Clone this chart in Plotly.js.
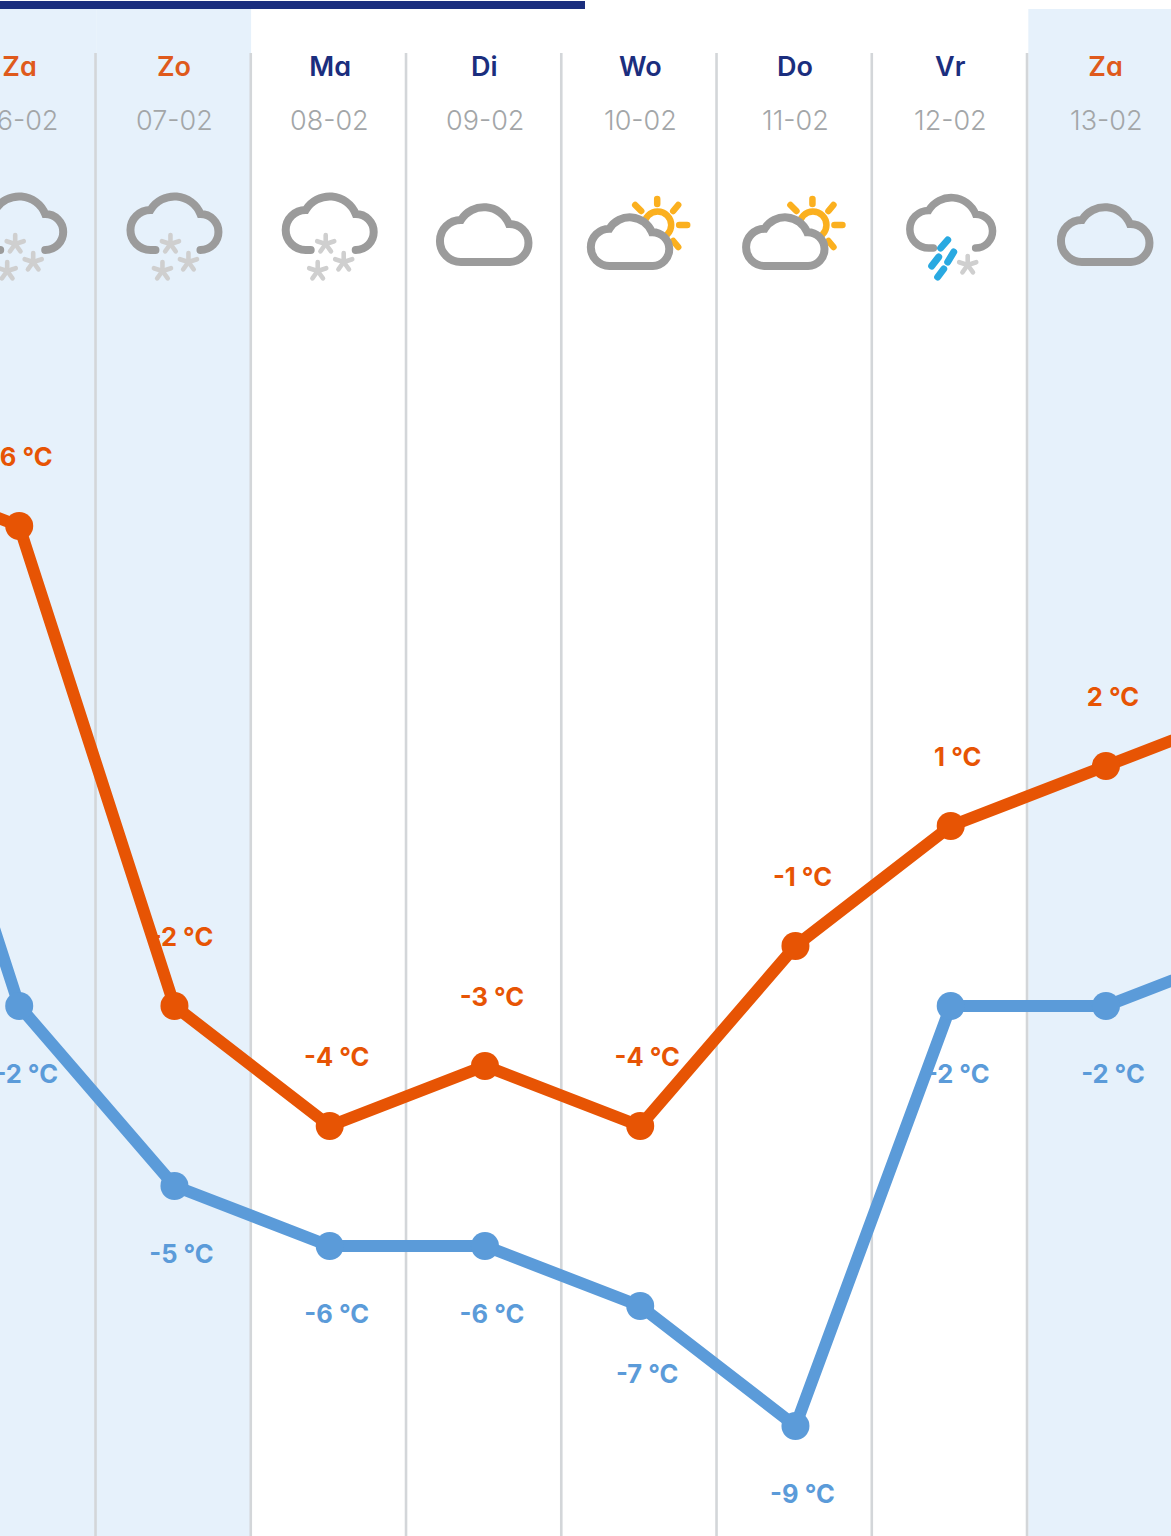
<!DOCTYPE html>
<html>
<head>
<meta charset="utf-8">
<script src="https://cdn.plot.ly/plotly-3.0.1.min.js"></script>
<style>
html,body{margin:0;padding:0;background:#fff;overflow:hidden}
#chart text{font-feature-settings:"cv11" 1,"ss03" 1;}
</style>
</head>
<body>
<div id="chart" style="width:1171px;height:1536px"></div>
<script>
// ---- data ----
const dayIndex   = [-1, 0, 1, 2, 3, 4, 5, 6, 7, 8];
const highs      = [ 7, 6,-2,-4,-3,-4,-1, 1, 2, 3];
const lows       = [ 6,-2,-5,-6,-6,-7,-9,-2,-2,-1];
const labelledDays = [0,1,2,3,4,5,6,7];
const highLabels = ['6 °C','-2 °C','-4 °C','-3 °C','-4 °C','-1 °C','1 °C','2 °C'];
const lowLabels  = ['-2 °C','-5 °C','-6 °C','-6 °C','-7 °C','-9 °C','-2 °C','-2 °C'];
const dayNames   = ['Za','Zo','Ma','Di','Wo','Do','Vr','Za'];
const dates      = ['06-02','07-02','08-02','09-02','10-02','11-02','12-02','13-02'];
const iconKinds  = ['snow','snow','snow','cloud','sun','sun','sleet','cloud'];

// ---- colours ----
const ORANGE='#E75404', BLUE='#5B9BD9', NAVY='#1B2E7E', WEEKEND='#E6F1FB', GRID='#D3D6D9';
const DAYORANGE='#DF5A1C', DATEGREY='#A3A6A8', BAR='#1B2E7E';

// ---- pixel frame ----
const W=1171,H=1536;
const xStep=155.25, x0=19.2;               // px of day 0, px per day
const yStep=60, yRef=1006, yRefT=-2;       // px per degree
const xRange=[-x0/xStep,(W-x0)/xStep];
const yRange=[yRefT-(H-yRef)/yStep, yRefT+yRef/yStep];
const paperY=px=>1-px/H, paperX=px=>px/W;

// ---- icons as SVG ----
const ICON=120; // icon box in px; box centre x = column, box top = iconTop
const iconTop=180;
const snowCloud=`<path d="M-19,250 H-24 A20,20 0 0 1 -24,210 A28,28 0 0 1 26,214 A18,18 0 0 1 26,250" fill="none" stroke="#9B9B9B" stroke-width="8" stroke-linecap="round"/>`;
const closedCloud=`M-24,262 A21,21 0 0 1 -24,220 A27,27 0 0 1 24,224 A19,19 0 0 1 25,262 Z`;
function star(cx,cy){
  let s='';
  for(let k=0;k<5;k++){
    const a=(-90+72*k)*Math.PI/180;
    s+=`<line x1="${cx}" y1="${cy}" x2="${(cx+9*Math.cos(a)).toFixed(2)}" y2="${(cy+9*Math.sin(a)).toFixed(2)}" stroke="#CFCFCF" stroke-width="4.6" stroke-linecap="round"/>`;
  }
  return s;
}
const sunRays=[[17,199,17,204],[33,211,38,205],[39,225,47,225],[33,241,38,247],[-5,205,1,211]];
const rainDashes=[[-3,240,-10,248],[3,252,-3,262],[-12,257,-19,266],[-7,269,-13,277]];
const iconBodies={
  snow: snowCloud+star(-4,244)+star(14,262)+star(-12,271),
  cloud:`<path d="${closedCloud}" fill="none" stroke="#9B9B9B" stroke-width="8"/>`,
  sun:`<circle cx="17.5" cy="225" r="13.5" fill="none" stroke="#FBB01F" stroke-width="6.5"/>`+
      sunRays.map(r=>`<line x1="${r[0]}" y1="${r[1]}" x2="${r[2]}" y2="${r[3]}" stroke="#FBB01F" stroke-width="6.5" stroke-linecap="round"/>`).join('')+
      `<g transform="translate(-9.5,242) scale(.886) translate(0,-235)"><path d="${closedCloud}" fill="#fff" stroke="#9B9B9B" stroke-width="9"/></g>`,
  sleet: `<g transform="translate(0.5,13) scale(.94)">${snowCloud}</g>`+
      rainDashes.map(r=>`<line x1="${r[0]}" y1="${r[1]}" x2="${r[2]}" y2="${r[3]}" stroke="#29A9E1" stroke-width="7" stroke-linecap="round"/>`).join('')+
      star(17,265)
};
const iconUri=k=>'data:image/svg+xml;charset=utf-8,'+encodeURIComponent(
  `<svg xmlns="http://www.w3.org/2000/svg" width="${ICON}" height="${ICON}" viewBox="${-ICON/2} ${iconTop} ${ICON} ${ICON}">${iconBodies[k]}</svg>`);

// ---- traces: labels first so that the lines run over them ----
const font=c=>({family:'Inter, "Noto Sans", sans-serif',size:25.5,color:c,weight:700});
const labelDx=7/xStep, highDy=66/yStep, lowDy=71/yStep;
const valueAt=(arr,d)=>arr[dayIndex.indexOf(d)];
const traces=[
  {type:'scatter',mode:'text',x:labelledDays.map(d=>d+labelDx),y:labelledDays.map(d=>valueAt(highs,d)+highDy),
   text:highLabels,textposition:'middle center',textfont:font(ORANGE),cliponaxis:false,hoverinfo:'skip'},
  {type:'scatter',mode:'text',x:labelledDays.map(d=>d+labelDx),y:labelledDays.map(d=>valueAt(lows,d)-lowDy),
   text:lowLabels,textposition:'middle center',textfont:font(BLUE),cliponaxis:false,hoverinfo:'skip'},
  {type:'scatter',mode:'lines+markers',x:dayIndex,y:lows,line:{color:BLUE,width:12},marker:{color:BLUE,size:28},hoverinfo:'skip'},
  {type:'scatter',mode:'lines+markers',x:dayIndex,y:highs,line:{color:ORANGE,width:12},marker:{color:ORANGE,size:28},hoverinfo:'skip'}
];

// ---- layout furniture built from the day arrays ----
const isWeekend=n=>n==='Za'||n==='Zo';
const gridShift=1.3/xStep, bandTrim=1/xStep;
const shapes=[];
labelledDays.forEach((d,i)=>{
  if(isWeekend(dayNames[i])){
    shapes.push({type:'rect',layer:'below',xref:'x',yref:'paper',x0:d-0.5,x1:d+0.5-bandTrim+(i===0?bandTrim:0),y0:0,y1:paperY(9),fillcolor:WEEKEND,line:{width:0}});
  }
});
// the last weekend band runs on to the next day, off the page
shapes.push({type:'rect',layer:'below',xref:'x',yref:'paper',x0:7.5,x1:8.5,y0:0,y1:paperY(9),fillcolor:WEEKEND,line:{width:0}});
labelledDays.forEach(d=>{
  shapes.push({type:'line',layer:'below',xref:'x',yref:'paper',x0:d+0.5-gridShift,x1:d+0.5-gridShift,y0:0,y1:paperY(53),line:{color:GRID,width:2.6}});
});
shapes.push({type:'rect',layer:'below',xref:'paper',yref:'paper',x0:0,x1:paperX(585),y0:paperY(9),y1:paperY(1),fillcolor:BAR,line:{width:0}});

const annotations=[];
labelledDays.forEach((d,i)=>{
  annotations.push({xref:'x',yref:'paper',x:d,y:paperY(66),text:dayNames[i],showarrow:false,xanchor:'center',yanchor:'middle',
    font:{family:'Inter, "Noto Sans", sans-serif',size:27,weight:600,color:isWeekend(dayNames[i])?DAYORANGE:NAVY}});
  annotations.push({xref:'x',yref:'paper',x:d,y:paperY(121),text:dates[i],showarrow:false,xanchor:'center',yanchor:'middle',
    font:{family:'Inter, "Noto Sans", sans-serif',size:27,weight:300,color:DATEGREY}});
});

const images=labelledDays.map((d,i)=>({source:iconUri(iconKinds[i]),xref:'x',yref:'paper',x:d,y:paperY(iconTop),
  sizex:ICON/xStep,sizey:ICON/H,xanchor:'center',yanchor:'top',sizing:'stretch',layer:'above'}));

Plotly.newPlot('chart',traces,{
  width:W,height:H,margin:{l:0,r:0,t:0,b:0,pad:0},
  paper_bgcolor:'#fff',plot_bgcolor:'rgba(0,0,0,0)',showlegend:false,hovermode:false,
  xaxis:{visible:false,range:xRange,fixedrange:true},
  yaxis:{visible:false,range:yRange,fixedrange:true},
  shapes,annotations,images
},{displayModeBar:false,staticPlot:true});
</script>
</body>
</html>
